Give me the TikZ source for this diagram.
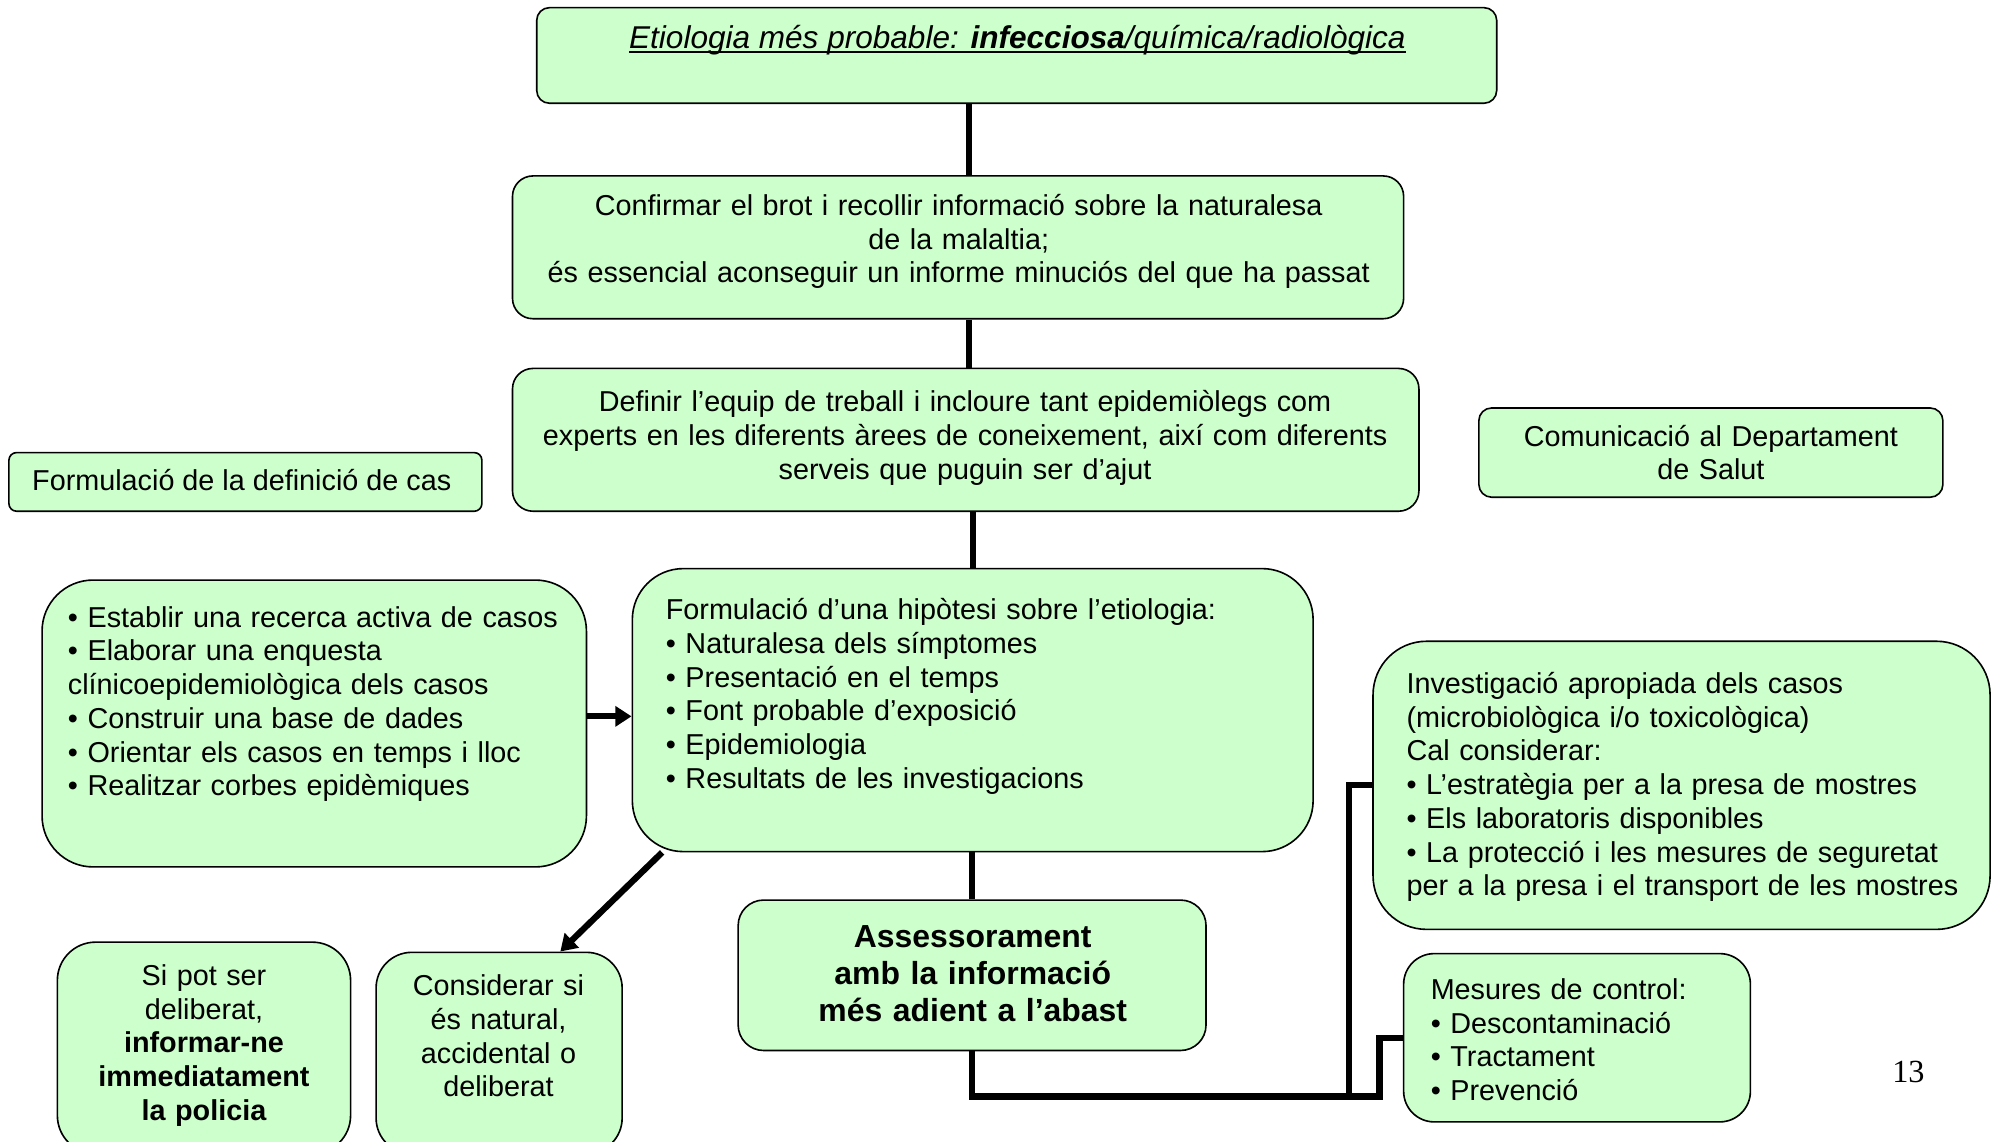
\documentclass[tikz,border=0pt]{standalone}
\usepackage{fontspec}
\setmainfont{Liberation Sans}
\newfontfamily\pagenumfont{Liberation Serif}
\usetikzlibrary{fit,arrows.meta}
\definecolor{boxgreen}{HTML}{CCFFCC}
\newcommand\ulined[1]{\setbox0\hbox{#1}\rlap{\rule[-2.4pt]{\wd0}{0.9pt}}\box0}

\tikzset{
  stage/.style={draw, fill=boxgreen, line width=0.9pt, inner sep=0pt},
  txt/.style={inner sep=0pt, font=\fontsize{16.05}{18.8}\selectfont},
  link/.style={line width=3.5pt, line join=miter},
}

\begin{document}
\begin{tikzpicture}[x=0.025cm, y=-0.025cm, >={Triangle[length=9pt,width=11pt]}]
   \useasboundingbox (0,0) rectangle (1568,895);
   \clip (0,0) rectangle (1568,895);
   % boxes
   \node[stage, rounded corners=.25cm, fit={(421,6) (1174,81)}] (etio) {};
   \node[stage, rounded corners=.4cm, fit={(402,138) (1101,250)}] (confirm) {};
   \node[stage, rounded corners=.4cm, fit={(402,289) (1113,401)}] (define) {};
   \node[stage, rounded corners=.15cm, fit={(7,355) (378,401)}] (defcas) {};
   \node[stage, rounded corners=.25cm, fit={(1160,320) (1524,390)}] (comunic) {};
   \node[stage, rounded corners=1cm, fit={(33,455) (460,680)}] (tasks) {};
   \node[stage, rounded corners=1cm, fit={(496,446) (1030,668)}] (hyp) {};
   \node[stage, rounded corners=1.05cm, fit={(1077,503) (1561,729)}] (invest) {};
   \node[stage, rounded corners=.5cm, fit={(579,706) (946,824)}] (assess) {};
   \node[stage, rounded corners=.6cm, fit={(1101,748) (1373,880)}] (mesures) {};
   \node[stage, rounded corners=.75cm, fit={(45,739) (275,905)}] (sipot) {};
   \node[stage, rounded corners=.7cm, fit={(295,747) (488,905)}] (consider) {};
   % connectors
   \coordinate (spine) at (760,0);
   \coordinate (bus) at (1058,860);
   \coordinate (bus2) at (1082,860);
   \draw[link] (spine |- etio.south) -- (spine |- confirm.north);
   \draw[link] (spine |- confirm.south) -- (spine |- define.north);
   \draw[link] (hyp.north) -- (hyp.north |- define.south);
   \draw[link] (assess.north) -- (assess.north |- hyp.south);
   \draw[link,->] ([yshift=.14cm]tasks.east) -- ([yshift=.14cm]tasks.east -| hyp.west);
   \draw[link,->] ([xshift=.6cm]hyp.south west) -- ([xshift=1.2cm]consider.north);
   \draw[link] (assess.south) |- (bus) |- (invest.west);
   \draw[link] (bus) -- (bus2) |- (mesures.west);
   % texts
   \node[txt, anchor=base, font=\itshape\fontsize{17.6}{21}\selectfont] (etio-t) at (798,38)
     {\ulined{Etiologia més probable: \textbf{infecciosa}/química/radiològica}};
   \node[txt, anchor=base, text width=17cm, align=center] (confirm-t) at (752,169)
     {Confirmar el brot i recollir informació sobre la naturalesa\\ de la malaltia;\\
      és essencial aconseguir un informe minuciós del que ha passat};
   \node[txt, anchor=base, text width=17.5cm, align=center] (define-t) at (757,323)
     {Definir l’equip de treball i incloure tant epidemiòlegs com\\
      experts en les diferents àrees de coneixement, així com diferents\\
      serveis que puguin ser d’ajut};
   \node[txt, anchor=base west] (defcas-t) at (25,385) {Formulació de la definició de cas};
   \node[txt, anchor=base, text width=8.5cm, align=center] (comunic-t) at (1342,350)
     {Comunicació al Departament\\ de Salut};
   \node[txt, anchor=base west, text width=10.5cm, align=left] (tasks-t) at (53,492)
     {• Establir una recerca activa de casos\\
      • Elaborar una enquesta\\
      clínicoepidemiològica dels casos\\
      • Construir una base de dades\\
      • Orientar els casos en temps i lloc\\
      • Realitzar corbes epidèmiques};
   \node[txt, anchor=base west, text width=12cm, align=left] (hyp-t) at (522,486)
     {Formulació d’una hipòtesi sobre l’etiologia:\\
      • Naturalesa dels símptomes\\
      • Presentació en el temps\\
      • Font probable d’exposició\\
      • Epidemiologia\\
      • Resultats de les investigacions};
   \node[txt, anchor=base west, text width=11.5cm, align=left] (invest-t) at (1103,544)
     {Investigació apropiada dels casos\\
      (microbiològica i/o toxicològica)\\
      Cal considerar:\\
      • L’estratègia per a la presa de mostres\\
      • Els laboratoris disponibles\\
      • La protecció i les mesures de seguretat\\
      per a la presa i el transport de les mostres};
   \node[txt, anchor=base, text width=9cm, align=center, font=\bfseries\fontsize{17.8}{20.6}\selectfont] (assess-t) at (763,743)
     {Assessorament\\ amb la informació\\ més adient a l’abast};
   \node[txt, anchor=base west, text width=6cm, align=left] (mesures-t) at (1122,784)
     {Mesures de control:\\
      • Descontaminació\\
      • Tractament\\
      • Prevenció};
   \node[txt, anchor=base, text width=5.5cm, align=center] (sipot-t) at (160,773)
     {Si pot ser\\ deliberat,\\ \textbf{informar-ne}\\ \textbf{immediatament}\\ \textbf{la policia}};
   \node[txt, anchor=base, text width=4.5cm, align=center] (consider-t) at (391,781)
     {Considerar si\\ és natural,\\ accidental o\\ deliberat};
   \node[inner sep=0pt, font=\pagenumfont\fontsize{18}{20}\selectfont] (pagenum) at (1497,841) {13};
\end{tikzpicture}
\end{document}
